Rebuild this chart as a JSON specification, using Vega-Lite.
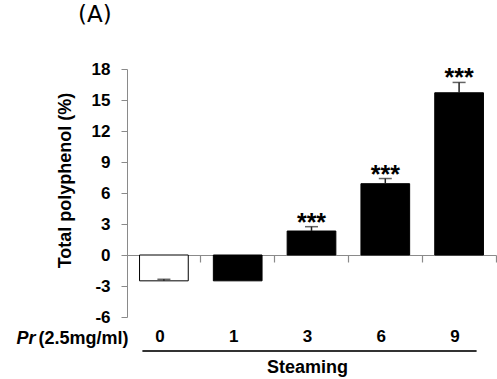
{
  "$schema": "https://vega.github.io/schema/vega-lite/v6.json",
  "width": 369,
  "height": 248,
  "autosize": {"type": "none"},
  "padding": {"left": 127, "top": 69, "right": 1, "bottom": 62},
  "background": "white",
  "title": {"text": "(A)", "anchor": "start", "frame": "group", "dx": -49, "offset": 15, "baseline": "alphabetic", "font": "DejaVu Sans", "fontSize": 23, "fontWeight": "normal", "color": "black"},
  "config": {"view": {"stroke": null}, "font": "Liberation Sans",
    "axisY": {"grid": false, "domainColor": "#8a8a8a", "tickColor": "#8a8a8a", "tickSize": 6, "labelPadding": 11,
      "labelFont": "Liberation Sans", "labelFontSize": 17, "labelFontWeight": "bold", "labelColor": "black",
      "labelExpr": "'' + datum.value",
      "titleFont": "Liberation Sans", "titleFontSize": 18, "titleFontWeight": "bold", "titleColor": "black"}},
  "data": {"values": [
    {"day": "0", "kind": "control", "value": -2.5, "err": -2.35, "sig": ""},
    {"day": "1", "kind": "steamed", "value": -2.5, "err": null, "sig": ""},
    {"day": "3", "kind": "steamed", "value": 2.32, "err": 2.74, "sig": "***"},
    {"day": "6", "kind": "steamed", "value": 6.9, "err": 7.4, "sig": "***"},
    {"day": "9", "kind": "steamed", "value": 15.7, "err": 16.7, "sig": "***"}
  ]},
  "resolve": {"axis": {"x": "independent"}},
  "layer": [
    {
      "mark": {"type": "bar", "width": {"band": 0.66}, "stroke": "black", "strokeWidth": 1},
      "encoding": {
        "x": {"field": "day", "type": "nominal", "sort": null,
          "scale": {"domain": ["0", "1", "3", "6", "9"], "paddingInner": 0, "paddingOuter": 0},
          "axis": {"orient": "bottom", "domain": false, "ticks": false, "tickSize": 0, "labelAngle": 0,
            "labelFont": "Liberation Sans", "labelFontSize": 17, "labelFontWeight": "bold", "labelColor": "black",
            "labelPadding": 11, "labelOffset": -4, "labelBaseline": "top",
            "title": "Steaming", "titleFont": "Liberation Sans", "titleFontSize": 18, "titleFontWeight": "bold", "titleColor": "black",
            "titleX": 180, "titleY": 55, "titleAlign": "center", "titleBaseline": "alphabetic"}},
        "y": {"field": "value", "type": "quantitative",
          "scale": {"domain": [-6, 18], "nice": false, "zero": false},
          "axis": {"values": [-6, -3, 0, 3, 6, 9, 12, 15, 18], "title": "Total polyphenol (%)",
            "titleAngle": -90, "titleX": -61.5, "titleY": 111, "titleAlign": "center", "titleBaseline": "middle"}},
        "fill": {"field": "kind", "type": "nominal", "scale": {"domain": ["control", "steamed"], "range": ["white", "black"]}, "legend": null}
      }
    },
    {
      "transform": [{"filter": "datum.err != null"}],
      "mark": {"type": "rule", "color": "#222", "strokeWidth": 1.5},
      "encoding": {
        "x": {"field": "day", "type": "nominal", "sort": null,
          "axis": {"orient": "bottom", "offset": -62, "domain": true, "domainColor": "#8a8a8a", "domainWidth": 1.2,
            "ticks": true, "tickColor": "#8a8a8a", "tickSize": 7, "tickWidth": 1.2, "bandPosition": 1, "labels": false,
            "title": "(2.5mg/ml)", "titleFont": "Liberation Sans", "titleFontSize": 18, "titleFontWeight": "bold", "titleColor": "black",
            "titleX": 1, "titleY": 88, "titleAlign": "right", "titleBaseline": "alphabetic"}},
        "y": {"field": "value", "type": "quantitative",
          "axis": {"values": [-6, -3, 0, 3, 6, 9, 12, 15, 18], "title": "Total polyphenol (%)",
            "titleAngle": -90, "titleX": -61.5, "titleY": 111, "titleAlign": "center", "titleBaseline": "middle"}},
        "y2": {"field": "err"}
      }
    },
    {
      "transform": [{"filter": "datum.err != null"}],
      "mark": {"type": "tick", "color": "#222", "thickness": 1.5, "size": 13},
      "encoding": {
        "x": {"field": "day", "type": "nominal", "sort": null,
          "axis": {"orient": "bottom", "domain": false, "ticks": false, "labels": false,
            "title": "Pr", "titleFont": "Liberation Sans", "titleFontSize": 18, "titleFontWeight": "bold", "titleFontStyle": "italic", "titleColor": "black",
            "titleX": -92, "titleY": 26, "titleAlign": "right", "titleBaseline": "alphabetic"}},
        "y": {"field": "err", "type": "quantitative",
          "axis": {"values": [-6, -3, 0, 3, 6, 9, 12, 15, 18], "title": "Total polyphenol (%)",
            "titleAngle": -90, "titleX": -61.5, "titleY": 111, "titleAlign": "center", "titleBaseline": "middle"}}
      }
    },
    {
      "transform": [{"filter": "datum.sig != ''"}],
      "mark": {"type": "text", "font": "Liberation Sans", "fontSize": 25, "fontWeight": "bold", "baseline": "alphabetic", "dy": 4, "color": "black"},
      "encoding": {
        "x": {"field": "day", "type": "nominal", "sort": null, "axis": null},
        "y": {"field": "err", "type": "quantitative",
          "axis": {"values": [-6, -3, 0, 3, 6, 9, 12, 15, 18], "title": "Total polyphenol (%)",
            "titleAngle": -90, "titleX": -61.5, "titleY": 111, "titleAlign": "center", "titleBaseline": "middle"}},
        "text": {"field": "sig"}
      }
    },
    {
      "data": {"values": [{"from": "0", "to": "9", "level": -9.28}]},
      "mark": {"type": "rule", "color": "#333", "strokeWidth": 2, "xOffset": -21.5, "x2Offset": 17.5},
      "encoding": {
        "x": {"field": "from", "type": "nominal", "sort": null, "axis": null},
        "x2": {"field": "to"},
        "y": {"field": "level", "type": "quantitative",
          "axis": {"values": [-6, -3, 0, 3, 6, 9, 12, 15, 18], "title": "Total polyphenol (%)",
            "titleAngle": -90, "titleX": -61.5, "titleY": 111, "titleAlign": "center", "titleBaseline": "middle"}}
      }
    }
  ]
}
